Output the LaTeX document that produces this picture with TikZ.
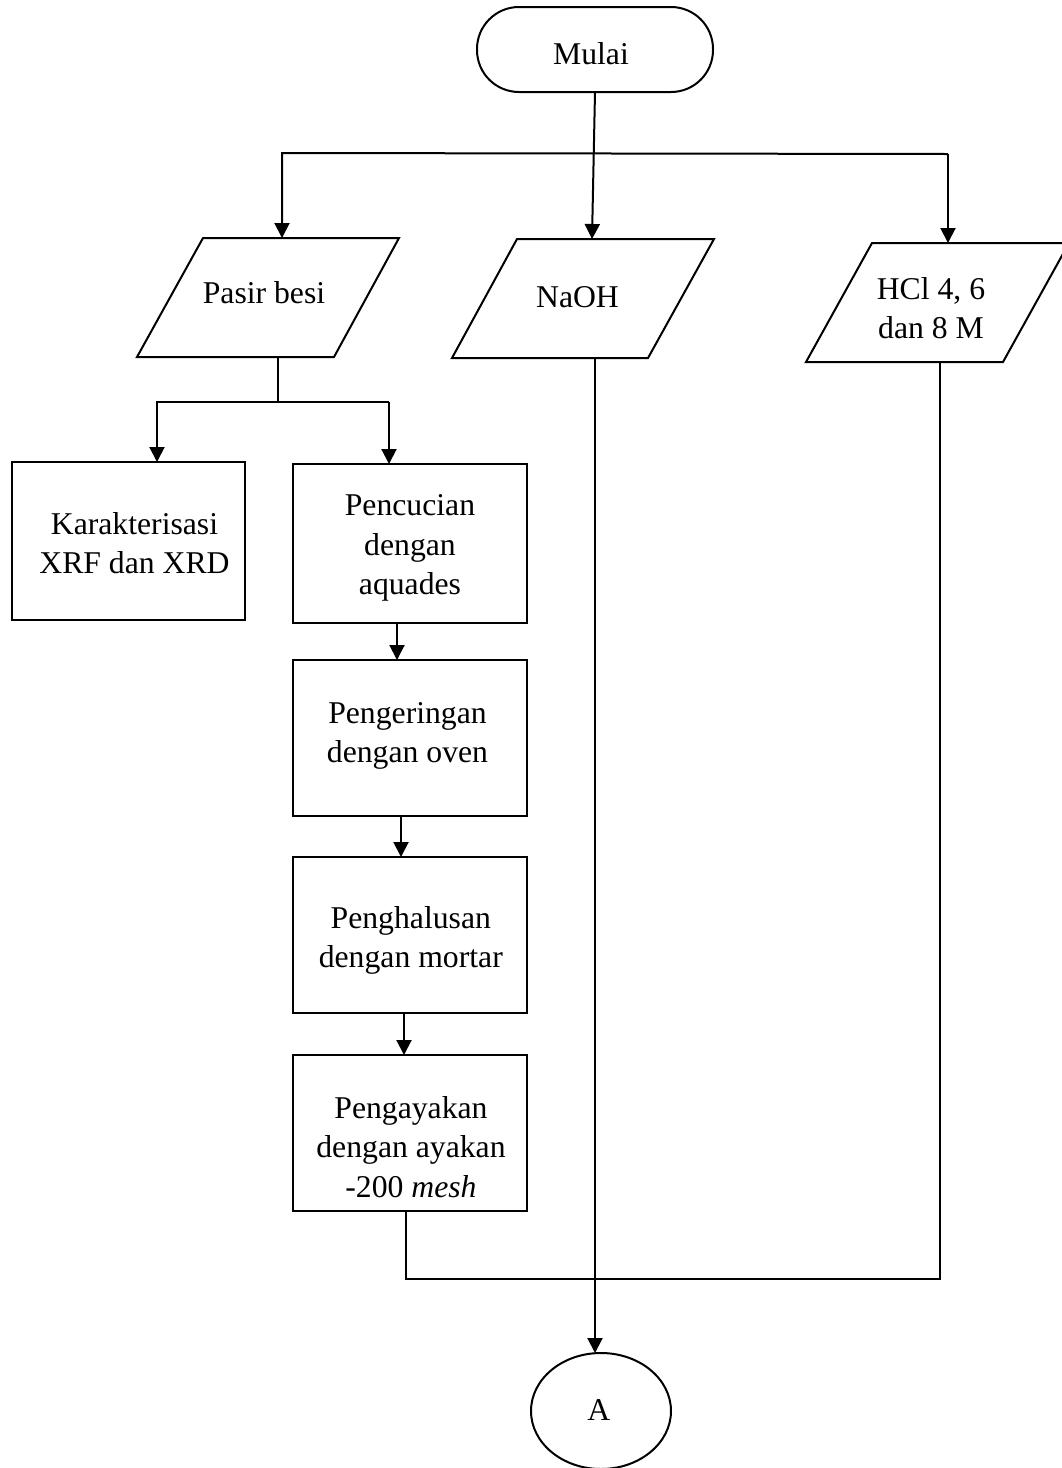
\documentclass[tikz,border=0pt]{standalone}
\usepackage{fontspec}
\setmainfont{Liberation Serif}
\usetikzlibrary{arrows.meta,calc,shapes.geometric}
\begin{document}
\begin{tikzpicture}[x=1pt,y=-1pt,
  line width=2pt,
  txt/.style={font=\fontsize{31.7}{39.5}\selectfont, align=center, inner sep=0pt, anchor=north},
  boxnode/.style={draw, rectangle, minimum width=234pt, minimum height=156pt, inner sep=0pt, outer sep=0pt},
  arr/.style={-{Triangle[length=15pt,width=15pt]}},
]
\useasboundingbox (0,0) rectangle (1062,1468);
\clip (0,0) rectangle (1062,1468);

% start terminal
\node[draw, rounded corners=42pt, minimum width=236pt, minimum height=85pt, inner sep=0pt, outer sep=0pt] (mulai) at (595,49.5) {};
\node[txt] (tmulai) at (591,41.3) {Mulai};

% input parallelograms
\draw (203,238) -- (399,238) -- (334,357) -- (137,357) -- cycle;
\node[txt] (tpasir) at (264,280.3) {Pasir besi};
\draw (517,239) -- (714,239) -- (648,358) -- (452,358) -- cycle;
\node[txt] (tnaoh) at (577.5,285.5) {NaOH};
\draw (872,243) -- (1069,243) -- (1003,362) -- (806,362) -- cycle;
\node[txt] (thcl) at (931,276.3) {HCl 4, 6\\dan 8 M};

\coordinate (pbtop) at (282,238);
\coordinate (pbbot) at (278,357);
\coordinate (natop) at (592,239);
\coordinate (nabot) at (595,358);
\coordinate (hctop) at (948,243);
\coordinate (hcbot) at (940,362);

% process boxes
\node[boxnode, minimum width=233pt, minimum height=158pt] (k) at (128.5,541) {};
\node[txt] (tk) at (134.5,511) {Karakterisasi\\XRF dan XRD};
\node[boxnode, minimum height=159pt] (b1) at (410,543.5) {};
\node[txt] (tb1) at (410,494) {Pencucian\\dengan\\aquades};
\node[boxnode] (b2) at (410,738) {};
\node[txt] (tb2) at (407.5,701.3) {Pengeringan\\dengan oven};
\node[boxnode] (b3) at (410,935) {};
\node[txt] (tb3) at (410.8,905.3) {Penghalusan\\dengan mortar};
\node[boxnode] (b4) at (410,1133) {};
\node[txt] (tb4) at (411,1095.3) {Pengayakan\\dengan ayakan\\-200 \textit{mesh}};

% connector terminal
\node[draw, ellipse, minimum width=140pt, minimum height=116pt, inner sep=0pt, outer sep=0pt] (A) at (601,1411) {};
\node[txt] (tA) at (598.7,1398.3) {A};

% top distribution
\coordinate (hl) at (282,153);
\coordinate (hr) at (948,154);
\draw[arr] (mulai.south) -- (natop);
\draw[arr] (hr) -- (hl) -- (pbtop);
\draw[arr] (hr) -- (hctop);

% pasir besi split
\coordinate (j2) at (278,402);
\coordinate (jl) at (157,402);
\coordinate (jr) at (389,402);
\draw (pbbot) -- (j2);
\draw[arr] (jr) -- (jl) -- (k.north -| jl);
\draw[arr] (jr) -- (b1.north -| jr);

% process chain
\draw[arr] ($(b1.south)+(-13,0)$) -- ($(b2.north)+(-13,0)$);
\draw[arr] ($(b2.south)+(-9,0)$) -- ($(b3.north)+(-9,0)$);
\draw[arr] ($(b3.south)+(-6,0)$) -- ($(b4.north)+(-6,0)$);

% merge
\coordinate (mr) at (940,1279);
\draw ($(b4.south)+(-4,0)$) |- (mr) -- (hcbot);

% NaOH to A
\draw[arr] (nabot) -- (A.north -| nabot);
\end{tikzpicture}
\end{document}
